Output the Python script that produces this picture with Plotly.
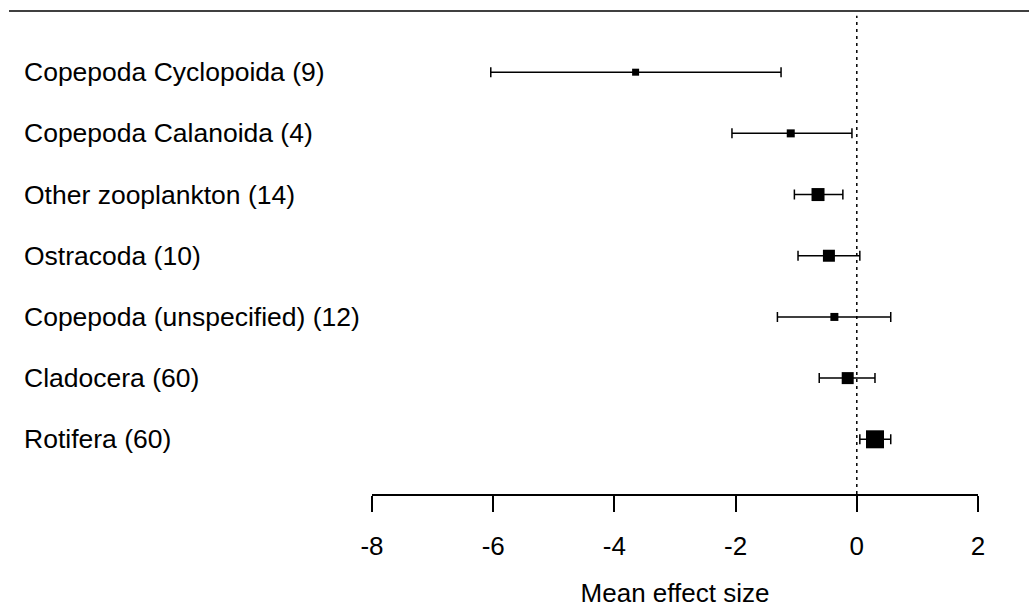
import plotly.graph_objects as go

categories = [
    "Copepoda Cyclopoida (9)",
    "Copepoda Calanoida (4)",
    "Other zooplankton (14)",
    "Ostracoda (10)",
    "Copepoda (unspecified) (12)",
    "Cladocera (60)",
    "Rotifera (60)",
]
means = [-3.65, -1.09, -0.64, -0.46, -0.37, -0.15, 0.30]
ci_low = [-6.04, -2.06, -1.03, -0.97, -1.31, -0.62, 0.05]
ci_high = [-1.25, -0.08, -0.23, 0.05, 0.56, 0.30, 0.56]
marker_sizes = [7, 8, 13, 12, 8, 12, 18]
x_ticks = [-8, -6, -4, -2, 0, 2]

W, H = 1029, 608
ML, MR, MT, MB = 372, 51, 11, 114
FONT = "Liberation Sans, Arial, sans-serif"

n = len(categories)
ypos = [n - i for i in range(n)]

fig = go.Figure()
fig.add_trace(go.Scatter(
    x=means, y=ypos, mode="markers",
    marker=dict(symbol="square", size=marker_sizes, color="black", opacity=1,
                line=dict(width=0)),
    error_x=dict(type="data", symmetric=False,
                 array=[h - m for h, m in zip(ci_high, means)],
                 arrayminus=[m - l for m, l in zip(means, ci_low)],
                 color="black", thickness=1.5, width=5),
    showlegend=False, hoverinfo="skip",
))

# dotted zero reference line
fig.add_shape(type="line", xref="x", yref="paper", x0=0, x1=0, y0=0, y1=0.99,
              line=dict(color="black", width=1.5, dash="3px,4px"), layer="below")
# top horizontal rule across the figure
pw = W - ML - MR
fig.add_shape(type="line", xref="paper", yref="paper",
              x0=(9 - ML) / pw, x1=(W - ML) / pw, y0=1, y1=1,
              line=dict(color="black", width=1.5))

for c, y in zip(categories, ypos):
    fig.add_annotation(text=c, xref="paper", yref="y", x=(22 - ML) / pw, y=y,
                       xanchor="left", yanchor="middle", showarrow=False,
                       font=dict(family=FONT, size=26.5, color="black"))

fig.update_layout(
    width=W, height=H,
    margin=dict(l=ML, r=MR, t=MT, b=MB, autoexpand=False),
    paper_bgcolor="white", plot_bgcolor="white",
    font=dict(family=FONT, size=26, color="black"),
    xaxis=dict(range=[-8, 2], tickvals=x_ticks, ticktext=[str(v) for v in x_ticks],
               showgrid=False, zeroline=False, showline=True, linecolor="black",
               linewidth=1.5, ticks="outside", ticklen=16, tickwidth=1.5,
               tickcolor="black", tickfont=dict(size=26), ticklabelstandoff=12,
               automargin=False,
               title=dict(text="Mean effect size", font=dict(size=26), standoff=26)),
    yaxis=dict(range=[0.106, 8.0], visible=False),
)

fig.write_html("out.html")
